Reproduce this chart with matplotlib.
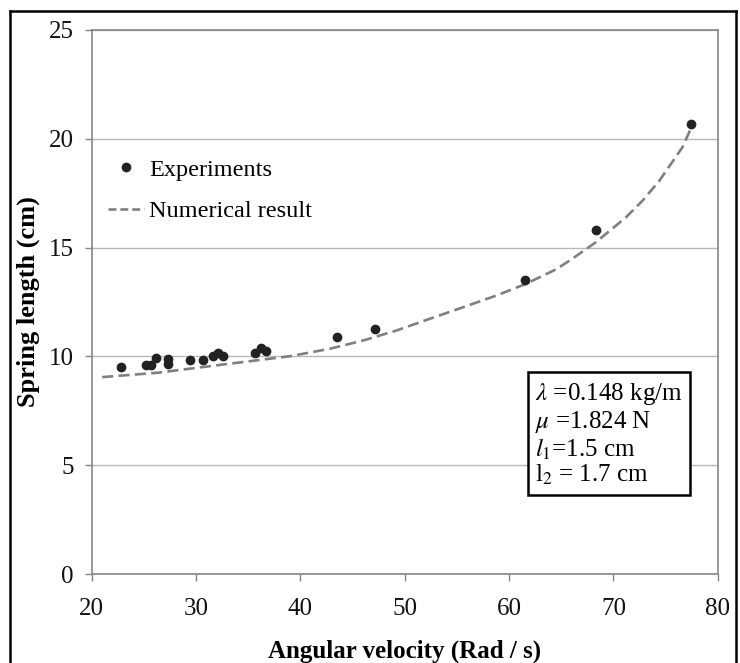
import numpy as np
import matplotlib
matplotlib.use("Agg")
import matplotlib.pyplot as plt
from matplotlib.lines import Line2D

plt.rcParams['font.family'] = ['Liberation Serif', 'DejaVu Serif']
plt.rcParams['mathtext.fontset'] = 'stix'

exp_w = [22.8, 25.2, 25.7, 26.2, 27.3, 27.3, 29.4, 30.7, 31.6, 32.1, 32.6,
         35.6, 36.2, 36.7, 43.5, 47.1, 61.5, 68.3, 77.4]
exp_len = [9.53, 9.62, 9.62, 9.94, 9.86, 9.66, 9.82, 9.82, 10.0, 10.18, 10.03,
           10.18, 10.37, 10.23, 10.9, 11.28, 13.53, 15.8, 20.67]

# Numerical curve
num_w = [21.0, 26.3, 32.6, 39.0, 42.8, 46.0, 49.2, 52.4, 55.6, 58.8, 61.6,
         64.5, 66.1, 68.3, 71.2, 72.8, 74.4, 76.6, 77.4]
num_len = [9.05, 9.25, 9.63, 10.01, 10.35, 10.73, 11.19, 11.73, 12.26, 12.80, 13.33,
           14.0, 14.5, 15.24, 16.39, 17.16, 18.07, 19.6, 20.45]

x_ticks = [20, 30, 40, 50, 60, 70, 80]
y_ticks = [0, 5, 10, 15, 20, 25]

params = [r"$\lambda$ =0.148 kg/m",
          r"$\mu$ =1.824 N",
          r"$l_1$=1.5 cm",
          r"l$_2$ = 1.7 cm"]

fig = plt.figure(figsize=(7.4, 6.63), dpi=100)
ax = fig.add_axes([0.124, 0.134, 0.846, 0.821])

grid_c = '#b8b8b8'
spine_c = '#868686'
dash = (4.2, 2.0)

ax.plot(num_w, num_len, color='#808080', lw=1.9, dashes=dash,
        label='Numerical result', zorder=3)
ax.plot(exp_w, exp_len, 'o', color='#222222', ms=6, label='Experiments', zorder=4)

ax.set_xlim(20, 80)
ax.set_ylim(0, 25)
ax.set_xticks(x_ticks)
ax.set_yticks(y_ticks)
ax.yaxis.grid(True, color=grid_c, lw=1)
ax.set_axisbelow(True)
for s in ax.spines.values():
    s.set_color(spine_c)
    s.set_linewidth(1.2)
ax.tick_params(axis='both', colors=spine_c, length=5, width=1, labelsize=18,
               labelcolor='#111111', pad=8)
ax.tick_params(axis='x', pad=12)

ax.set_xlabel('Angular velocity (Rad / s)', fontsize=18, fontweight='bold', labelpad=14)
ax.set_ylabel('Spring length (cm)', fontsize=19, fontweight='bold', labelpad=6)

handles = [Line2D([], [], ls='none', marker='o', color='#222222', ms=6),
           Line2D([], [], color='#808080', lw=1.9, dashes=(3.0, 1.5))]
leg = ax.legend(handles, ['Experiments', 'Numerical result'], loc='upper left',
                bbox_to_anchor=(0.119, 0.79), bbox_transform=fig.transFigure,
                fontsize=17.5, frameon=True, fancybox=False, handlelength=1.5,
                handletextpad=0.2, labelspacing=0.8, borderpad=0.3)
leg.get_frame().set_edgecolor('none')
leg.get_frame().set_facecolor('white')
leg.get_frame().set_alpha(1)

fig.text(0.723, 0.425, "\n".join(params), fontsize=18, va='top', ha='left',
         linespacing=1.08,
         bbox=dict(boxstyle='square,pad=0.3', fc='white', ec='black', lw=1.8))

# outer frame around the figure
fig.add_artist(Line2D([10 / 740, 10 / 740], [0, 1 - 11 / 663], color='black', lw=1.8,
                      transform=fig.transFigure))
fig.add_artist(Line2D([10 / 740, 736 / 740], [1 - 11 / 663, 1 - 11 / 663], color='black',
                      lw=1.8, transform=fig.transFigure))
fig.add_artist(Line2D([736 / 740, 736 / 740], [0, 1 - 11 / 663], color='black', lw=1.8,
                      transform=fig.transFigure))

fig.savefig('out.png', dpi=100)
